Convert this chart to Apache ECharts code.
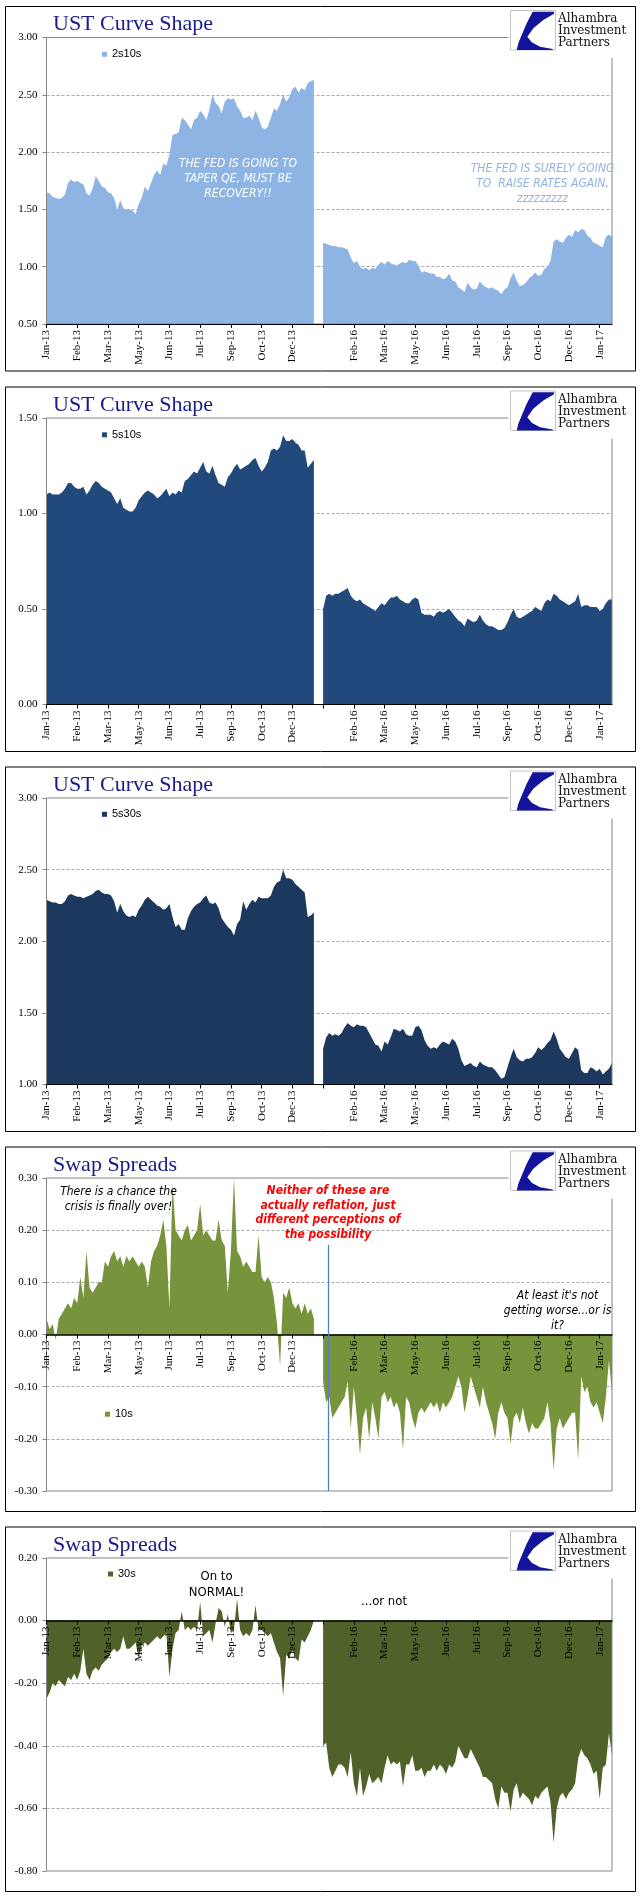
<!DOCTYPE html>
<html><head><meta charset="utf-8">
<script src="https://cdn.jsdelivr.net/npm/echarts@6/dist/echarts.min.js"></script>
<style>html,body{margin:0;padding:0;background:#fff}#c{width:641px;height:1901px}</style>
</head><body><div id="c"></div><script>
const tickLabels = ['Jan-13','Feb-13','Mar-13','May-13','Jun-13','Jul-13','Sep-13','Oct-13','Dec-13','','Feb-16','Mar-16','May-16','Jun-16','Jul-16','Sep-16','Oct-16','Dec-16','Jan-17'];

const s2s10_2013 = [1.65,1.64,1.61,1.60,1.59,1.60,1.63,1.73,1.76,1.74,
1.75,1.73,1.72,1.64,1.62,1.68,1.79,1.75,1.70,1.69,
1.65,1.64,1.60,1.50,1.58,1.51,1.50,1.50,1.49,1.46,
1.55,1.60,1.70,1.66,1.73,1.80,1.84,1.80,1.90,1.88,
1.98,2.15,2.16,2.17,2.30,2.28,2.24,2.20,2.28,2.30,
2.36,2.33,2.28,2.37,2.50,2.43,2.40,2.34,2.44,2.47,
2.46,2.47,2.40,2.36,2.30,2.30,2.32,2.28,2.36,2.30,
2.22,2.20,2.22,2.30,2.38,2.36,2.42,2.50,2.44,2.48,
2.55,2.57,2.52,2.56,2.54,2.60,2.62,2.63];
const s2s10_2016 = [1.21,1.20,1.19,1.18,1.18,1.17,1.17,1.16,1.15,1.08,
1.03,1.05,1.00,0.98,0.99,0.97,0.99,0.98,1.02,1.04,
1.02,1.05,1.03,1.02,1.01,1.03,1.04,1.03,1.06,1.05,
1.05,1.01,0.95,0.96,0.95,0.94,0.94,0.91,0.91,0.89,
0.90,0.94,0.88,0.87,0.82,0.80,0.78,0.86,0.82,0.80,
0.81,0.87,0.84,0.82,0.81,0.82,0.80,0.79,0.76,0.80,
0.82,0.90,0.95,0.88,0.83,0.84,0.86,0.90,0.92,0.95,
0.92,0.93,0.98,1.00,1.05,1.22,1.24,1.22,1.21,1.25,
1.28,1.26,1.32,1.30,1.33,1.32,1.27,1.25,1.21,1.20,
1.18,1.17,1.26,1.28,1.26];

const s5s10_2013 = [1.10,1.11,1.10,1.10,1.10,1.11,1.13,1.16,1.16,1.14,
1.13,1.13,1.14,1.10,1.12,1.15,1.17,1.16,1.14,1.13,
1.12,1.11,1.08,1.05,1.08,1.03,1.02,1.01,1.01,1.03,
1.07,1.09,1.11,1.12,1.11,1.10,1.08,1.09,1.11,1.13,
1.09,1.11,1.10,1.12,1.11,1.17,1.18,1.20,1.22,1.21,
1.24,1.27,1.22,1.21,1.25,1.20,1.16,1.15,1.14,1.19,
1.21,1.24,1.26,1.23,1.24,1.25,1.26,1.28,1.29,1.25,
1.22,1.24,1.27,1.33,1.34,1.33,1.35,1.41,1.38,1.38,
1.39,1.37,1.36,1.33,1.33,1.24,1.26,1.28];
const s5s10_2016 = [0.50,0.57,0.58,0.57,0.58,0.58,0.59,0.60,0.61,0.57,
0.55,0.54,0.55,0.53,0.52,0.51,0.50,0.49,0.51,0.53,
0.52,0.54,0.56,0.56,0.57,0.55,0.54,0.53,0.53,0.55,
0.56,0.55,0.48,0.47,0.47,0.47,0.46,0.48,0.49,0.48,
0.49,0.50,0.48,0.46,0.44,0.43,0.41,0.45,0.44,0.43,
0.44,0.47,0.44,0.42,0.41,0.41,0.40,0.39,0.39,0.40,
0.43,0.47,0.50,0.46,0.45,0.46,0.47,0.48,0.49,0.51,
0.50,0.49,0.53,0.55,0.54,0.58,0.57,0.55,0.54,0.53,
0.52,0.53,0.54,0.58,0.51,0.52,0.52,0.51,0.51,0.51,
0.49,0.50,0.53,0.55,0.55];

const s5s30_2013 = [2.29,2.28,2.27,2.27,2.26,2.26,2.28,2.32,2.33,2.32,
2.31,2.31,2.30,2.31,2.32,2.33,2.35,2.36,2.34,2.33,
2.33,2.32,2.28,2.20,2.26,2.21,2.18,2.17,2.18,2.17,
2.22,2.25,2.29,2.31,2.29,2.27,2.25,2.24,2.22,2.23,
2.26,2.17,2.10,2.12,2.08,2.08,2.16,2.21,2.24,2.26,
2.27,2.30,2.32,2.27,2.26,2.27,2.23,2.16,2.13,2.10,
2.08,2.04,2.12,2.15,2.28,2.22,2.26,2.29,2.27,2.31,
2.30,2.30,2.30,2.32,2.38,2.41,2.42,2.50,2.44,2.44,
2.43,2.40,2.38,2.36,2.34,2.17,2.18,2.20];
const s5s30_2016 = [1.25,1.33,1.36,1.34,1.35,1.34,1.36,1.40,1.43,1.41,
1.40,1.42,1.41,1.41,1.40,1.36,1.32,1.28,1.27,1.23,
1.30,1.28,1.33,1.39,1.38,1.37,1.39,1.35,1.34,1.34,
1.40,1.41,1.38,1.31,1.27,1.25,1.26,1.25,1.28,1.30,
1.29,1.28,1.32,1.30,1.25,1.17,1.13,1.14,1.15,1.13,
1.12,1.16,1.14,1.13,1.12,1.12,1.10,1.07,1.04,1.05,
1.12,1.19,1.25,1.19,1.17,1.16,1.18,1.18,1.19,1.22,
1.26,1.24,1.26,1.29,1.31,1.37,1.32,1.25,1.22,1.19,
1.18,1.22,1.26,1.24,1.10,1.08,1.08,1.12,1.11,1.09,
1.11,1.07,1.09,1.11,1.15];

const swap10_2013 = [0.03,0.01,0.02,-0.01,0.03,0.04,0.05,0.06,0.05,0.07,
0.06,0.11,0.07,0.16,0.09,0.08,0.09,0.10,0.10,0.14,
0.13,0.15,0.16,0.14,0.15,0.13,0.15,0.14,0.15,0.14,
0.13,0.14,0.13,0.09,0.14,0.16,0.17,0.19,0.22,0.17,
0.05,0.29,0.20,0.19,0.18,0.20,0.21,0.18,0.19,0.20,
0.25,0.19,0.20,0.19,0.18,0.18,0.22,0.18,0.17,0.08,
0.16,0.30,0.16,0.15,0.13,0.14,0.13,0.12,0.12,0.19,
0.11,0.10,0.11,0.10,0.07,0.02,-0.06,0.08,0.07,0.09,
0.06,0.05,0.06,0.04,0.06,0.04,0.05,0.03];
const swap10_2016 = [-0.09,-0.13,-0.12,-0.16,-0.15,-0.14,-0.13,-0.12,-0.09,-0.18,
-0.10,-0.16,-0.23,-0.16,-0.14,-0.20,-0.13,-0.16,-0.20,-0.12,
-0.11,-0.13,-0.12,-0.14,-0.13,-0.15,-0.22,-0.12,-0.13,-0.16,
-0.18,-0.15,-0.14,-0.15,-0.14,-0.13,-0.14,-0.13,-0.15,-0.13,
-0.14,-0.13,-0.12,-0.10,-0.08,-0.10,-0.15,-0.12,-0.08,-0.10,
-0.12,-0.14,-0.10,-0.13,-0.15,-0.17,-0.20,-0.15,-0.13,-0.15,
-0.16,-0.21,-0.16,-0.15,-0.17,-0.14,-0.17,-0.19,-0.17,-0.18,
-0.18,-0.17,-0.16,-0.13,-0.17,-0.26,-0.18,-0.16,-0.18,-0.17,
-0.16,-0.15,-0.15,-0.24,-0.08,-0.11,-0.10,-0.13,-0.14,-0.13,
-0.15,-0.17,-0.12,-0.05,-0.11];

const swap30_2013 = [-0.25,-0.23,-0.20,-0.21,-0.19,-0.20,-0.21,-0.18,-0.19,-0.17,
-0.19,-0.16,-0.09,-0.17,-0.19,-0.16,-0.15,-0.16,-0.14,-0.13,
-0.12,-0.10,-0.09,-0.10,-0.09,-0.05,-0.09,-0.09,-0.08,-0.07,
-0.12,-0.08,-0.07,-0.08,-0.07,-0.06,-0.05,-0.06,-0.05,-0.04,
-0.18,-0.09,-0.04,-0.03,0.03,-0.03,-0.02,-0.03,-0.02,-0.03,
0.06,-0.05,-0.04,-0.03,-0.07,-0.01,0.04,0.03,-0.02,0.02,
-0.04,-0.03,0.07,-0.03,-0.05,-0.04,-0.05,-0.03,0.05,-0.03,
-0.03,-0.04,-0.05,-0.04,-0.07,-0.10,-0.12,-0.24,-0.11,-0.12,
-0.09,-0.12,-0.13,-0.06,-0.07,-0.05,-0.03,0.00];
const swap30_2016 = [-0.40,-0.39,-0.47,-0.50,-0.48,-0.46,-0.46,-0.47,-0.50,-0.42,
-0.52,-0.56,-0.47,-0.56,-0.53,-0.49,-0.52,-0.51,-0.50,-0.52,
-0.47,-0.43,-0.46,-0.45,-0.46,-0.45,-0.53,-0.46,-0.46,-0.43,
-0.48,-0.48,-0.47,-0.50,-0.48,-0.48,-0.46,-0.48,-0.46,-0.47,
-0.49,-0.46,-0.47,-0.45,-0.40,-0.42,-0.44,-0.44,-0.41,-0.43,
-0.45,-0.47,-0.50,-0.50,-0.51,-0.52,-0.57,-0.60,-0.53,-0.55,
-0.55,-0.61,-0.54,-0.52,-0.57,-0.55,-0.56,-0.57,-0.59,-0.56,
-0.57,-0.55,-0.54,-0.53,-0.58,-0.71,-0.60,-0.56,-0.55,-0.57,
-0.55,-0.54,-0.52,-0.44,-0.41,-0.43,-0.44,-0.46,-0.49,-0.48,
-0.57,-0.47,-0.46,-0.36,-0.43];

const gapPoints = [null, null];

const SERIF = '"Liberation Serif","Times New Roman",serif';
const SANS = '"Liberation Sans",Arial,sans-serif';
const NARROW = '"Liberation Sans Narrow","DejaVu Sans Condensed","Arial Narrow",sans-serif';

const T = [6, 386.5, 766.5, 1146.5, 1526.5];
const panels = [
  {title:'UST Curve Shape', name:'2s10s', a:s2s10_2013, b:s2s10_2016, color:'#8EB4E3', min:0.5, max:3, interval:0.5, tall:false, legLeft:102, legTop:42.8},
  {title:'UST Curve Shape', name:'5s10s', a:s5s10_2013, b:s5s10_2016, color:'#22497C', min:0, max:1.5, interval:0.5, tall:false, legLeft:102, legTop:42.8},
  {title:'UST Curve Shape', name:'5s30s', a:s5s30_2013, b:s5s30_2016, color:'#1C385E', min:1, max:3, interval:0.5, tall:false, legLeft:102, legTop:42.3},
  {title:'Swap Spreads', name:'10s', a:swap10_2013, b:swap10_2016, color:'#77933C', min:-0.3, max:0.3, interval:0.1, tall:true, legLeft:105, legTop:262.2},
  {title:'Swap Spreads', name:'30s', a:swap30_2013, b:swap30_2016, color:'#50612A', min:-0.8, max:0.2, interval:0.2, tall:true, legLeft:108, legTop:42}
];

const N = panels[0].a.length + gapPoints.length + panels[0].b.length;
const cats = [];
for (let i = 0; i < N; i++) cats.push(String(i));
const isTick = (idx) => idx % 10 === 0 && (idx / 10) < tickLabels.length;

const graphics = [];
panels.forEach((p, k) => {
  const t = T[k];
  graphics.push({type:'rect', z:50, silent:true, shape:{x:508.5, y:t+2, width:126, height:50}, style:{fill:'#fff'}});
  graphics.push({type:'rect', z:51, silent:true, shape:{x:510.5, y:t+4.5, width:45, height:39.5}, style:{fill:'#fff', stroke:'#c4c4c4', lineWidth:1}});
  graphics.push({type:'polygon', z:52, silent:true, shape:{points:[
    [532.7,t+5.7],[554,t+5.7],[554,t+7.7],[543.3,t+14],[533.3,t+22.3],[527.3,t+30.7],
    [531.7,t+36.3],[540,t+40.7],[552.7,t+43],[552.7,t+44],[516.7,t+44],[518.3,t+37.3],[521.7,t+29],[526.7,t+17.3]]},
    style:{fill:'#13139b'}});
  ['Alhambra','Investment','Partners'].forEach((s, j) => {
    graphics.push({type:'text', z:52, silent:true, x:558, y:t+13.2+j*11.9,
      style:{text:s, font:'12px "DejaVu Serif",serif', fill:'#111', textAlign:'left', textVerticalAlign:'middle', align:'left', verticalAlign:'middle'}});
  });
  graphics.push({type:'text', z:52, silent:true, x:53, y:t+18.3,
    style:{text:p.title, font:'22px ' + SERIF, fill:'#1a1a8c', textAlign:'left', textVerticalAlign:'middle', align:'left', verticalAlign:'middle'}});
  graphics.push({type:'rect', z:100, silent:true, shape:{x:5.5, y:t+0.5, width:630, height:364.5}, style:{fill:'none', stroke:'#000', lineWidth:1}});
});

function note(text, x, y, font, fill, lh) {
  graphics.push({type:'text', z:60, silent:true, x:x, y:y,
    style:{text:text, font:font, fill:fill, lineHeight:lh, textAlign:'center', textVerticalAlign:'middle', align:'center', verticalAlign:'middle'}});
}
note('THE FED IS GOING TO\nTAPER QE, MUST BE\nRECOVERY!!', 238, T[0]+173, 'italic 12px ' + NARROW, '#ffffff', 15);
note('THE FED IS SURELY GOING\nTO  RAISE RATES AGAIN,\nzzzzzzzzz', 542.5, T[0]+178, 'italic 12px ' + NARROW, '#8EB4E3', 15);
note('There is a chance the\ncrisis is finally over!', 118.5, T[3]+53.3, 'italic 12px ' + NARROW, '#000', 15);
note('Neither of these are\nactually reflation, just\ndifferent perceptions of\nthe possibility', 328, T[3]+66.5, 'italic bold 12px ' + NARROW, '#ff0000', 14.7);
note('At least it\'s not\ngetting worse...or is\nit?', 557.6, T[3]+164.8, 'italic 12px ' + NARROW, '#000', 15);
note('On to\nNORMAL!', 216.5, T[4]+58.5, '13px ' + NARROW, '#000', 16);
note('...or not', 384, T[4]+74.8, '13px ' + NARROW, '#000', 16);
graphics.push({type:'line', z:60, silent:true, shape:{x1:328.5, y1:T[3]+98.5, x2:328.5, y2:T[3]+344.5}, style:{stroke:'#4F81BD', lineWidth:1.3}});

const gridH = (p) => (p.tall ? 313 : 286.5);
// for the swap panels the category axis sits on the zero line
const zeroOffset = (p) => (p.min < 0 ? -gridH(p) * (0 - p.min) / (p.max - p.min) : 0);

const chart = echarts.init(document.getElementById('c'), null, {renderer:'canvas'});
chart.setOption({
  animation:false,
  backgroundColor:'#fff',
  grid: panels.map((p, k) => ({left:46.5, width:565.5, top:T[k]+31.5, height:gridH(p),
    show:true, borderColor:'#858585', borderWidth:1, backgroundColor:'transparent', z:3})),
  legend: panels.map((p, k) => ({data:[p.name], left:p.legLeft, top:T[k]+p.legTop, padding:0,
    itemWidth:5, itemHeight:5, icon:'rect', selectedMode:false,
    textStyle:{fontFamily:SANS, fontSize:11, color:'#000'}})),
  xAxis: panels.map((p, k) => ({type:'category', gridIndex:k, data:cats, boundaryGap:false, z:5,
    position:'bottom', offset:zeroOffset(p),
    axisLine:{show:true, onZero:false, lineStyle:{color:'#000', width:p.tall ? 1.5 : 1}},
    axisTick:{show:true, interval:(i) => isTick(i), length:4, lineStyle:{color:'#000'}},
    axisLabel:{show:true, interval:(i) => isTick(i), rotate:90, margin:6,
      formatter:(v, i) => (isTick(i) ? tickLabels[i / 10] : ''),
      fontFamily:SERIF, fontSize:11, color:'#000'},
    splitLine:{show:false}})),
  yAxis: panels.map((p, k) => ({type:'value', gridIndex:k, min:p.min, max:p.max, interval:p.interval,
    axisLine:{show:false},
    axisTick:{show:true, length:4, lineStyle:{color:'#858585'}},
    axisLabel:{formatter:(v) => v.toFixed(2), margin:9, fontFamily:SERIF, fontSize:11, color:'#000'},
    splitLine:{show:true, showMinLine:false, showMaxLine:false, lineStyle:{color:'#a8a8a8', type:[3,2], width:1}}})),
  series: panels.map((p, k) => ({type:'line', name:p.name, xAxisIndex:k, yAxisIndex:k,
    data:p.a.concat(gapPoints, p.b), symbol:'none', showSymbol:false, connectNulls:false, silent:true,
    lineStyle:{width:0, opacity:0}, itemStyle:{color:p.color}, areaStyle:{color:p.color, opacity:1}, z:2})),
  graphic: graphics
});
</script></body></html>
